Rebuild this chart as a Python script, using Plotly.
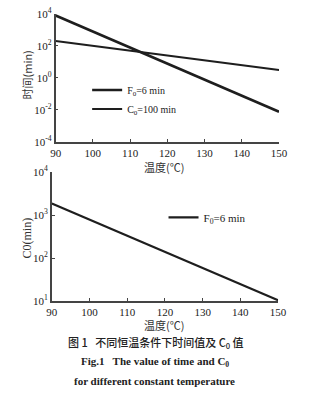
import plotly.graph_objects as go

# ---- data ----
temps = [90, 100, 110, 120, 130, 140, 150]
time_F0 = [7800, 780, 78, 7.8, 0.78, 0.078, 0.0078]      # F0 = 6 min (steep)
time_C0 = [200, 100, 50, 25, 12.5, 6.2, 3.1]             # C0 = 100 min (shallow)
c0_values = [1860, 785, 331, 140, 59, 25, 10.5]          # C0 for F0 = 6 min

x_ticks = [90, 100, 110, 120, 130, 140, 150]
top_y_vals = [1e-4, 1e-2, 1, 1e2, 1e4]
top_y_text = ["10<sup>-4</sup>", "10<sup>-2</sup>", "10<sup>0</sup>", "10<sup>2</sup>", "10<sup>4</sup>"]
bot_y_vals = [1e1, 1e2, 1e3, 1e4]
bot_y_text = ["10<sup>1</sup>", "10<sup>2</sup>", "10<sup>3</sup>", "10<sup>4</sup>"]

W, H = 331, 395
SERIF = "Liberation Serif, Times New Roman, serif"
CJK = "Noto Sans CJK SC"
INK = "#1e1e1e"

def px(x):
    return x / W

def py(y):
    return 1 - y / H

fig = go.Figure()
fig.add_trace(go.Scatter(x=temps, y=time_F0, mode="lines", name="F<sub>0</sub>=6 min",
                         line=dict(color=INK, width=2.6), xaxis="x", yaxis="y", legend="legend"))
fig.add_trace(go.Scatter(x=temps, y=time_C0, mode="lines", name="C<sub>0</sub>=100 min",
                         line=dict(color=INK, width=1.9), xaxis="x", yaxis="y", legend="legend"))
fig.add_trace(go.Scatter(x=temps, y=c0_values, mode="lines", name="F<sub>0</sub>=6 min",
                         line=dict(color=INK, width=2.2), xaxis="x2", yaxis="y2", legend="legend2"))

axis_common = dict(showline=True, linecolor="#444", linewidth=1.5, showgrid=False,
                   zeroline=False, ticks="inside", ticklen=3, tickcolor="#444",
                   tickfont=dict(family=SERIF, size=11, color="#222"))

fig.update_layout(
    width=W, height=H,
    margin=dict(l=0, r=0, t=0, b=0),
    paper_bgcolor="white", plot_bgcolor="white",
    xaxis=dict(domain=[px(52), px(286)], range=[90, 150], tickvals=x_ticks,
               anchor="y", **axis_common),
    yaxis=dict(domain=[py(139), py(6)], type="log", range=[-4, 4],
               tickvals=top_y_vals, ticktext=top_y_text, anchor="x", **axis_common),
    xaxis2=dict(domain=[px(48), px(285)], range=[90, 150], tickvals=x_ticks,
                anchor="y2", **axis_common),
    yaxis2=dict(domain=[py(304), py(170)], type="log", range=[1, 4],
                tickvals=bot_y_vals, ticktext=bot_y_text, anchor="x2",
                **axis_common),
    legend=dict(x=px(85), y=py(70), xanchor="left", yanchor="top",
                bgcolor="rgba(0,0,0,0)", font=dict(family=SERIF, size=10, color="#222"),
                tracegroupgap=0, itemwidth=30),
    legend2=dict(x=px(165), y=py(202), xanchor="left", yanchor="top",
                 bgcolor="rgba(0,0,0,0)", font=dict(family=SERIF, size=11, color="#222"),
                 itemwidth=30),
    showlegend=True,
)

annotations = [
    dict(text="时间(min)", x=px(22), y=py(70), textangle=-90,
         font=dict(family=CJK, size=11, color="#333")),
    dict(text="C0(min)", x=px(22), y=py(239), textangle=-90,
         font=dict(family=SERIF, size=12, color="#333")),
    dict(text="温度(℃)", x=px(166), y=py(165),
         font=dict(family=CJK, size=11, color="#333")),
    dict(text="温度(℃)", x=px(166), y=py(329),
         font=dict(family=CJK, size=11, color="#333")),
    dict(text="图 1   不同恒温条件下时间值及 C<sub>0</sub> 值", x=px(157), y=py(347),
         font=dict(family=CJK, size=11, color="#222", weight=500)),
    dict(text="<b>Fig.1   The value of time and C<sub>0</sub></b>", x=px(156), y=py(367),
         font=dict(family=SERIF, size=11, color="#222")),
    dict(text="<b>for different constant temperature</b>", x=px(156), y=py(387),
         font=dict(family=SERIF, size=11, color="#222")),
]
for a in annotations:
    a.update(xref="paper", yref="paper", showarrow=False, xanchor="center", yanchor="middle")
fig.update_layout(annotations=annotations)

fig.write_html("out.html")
